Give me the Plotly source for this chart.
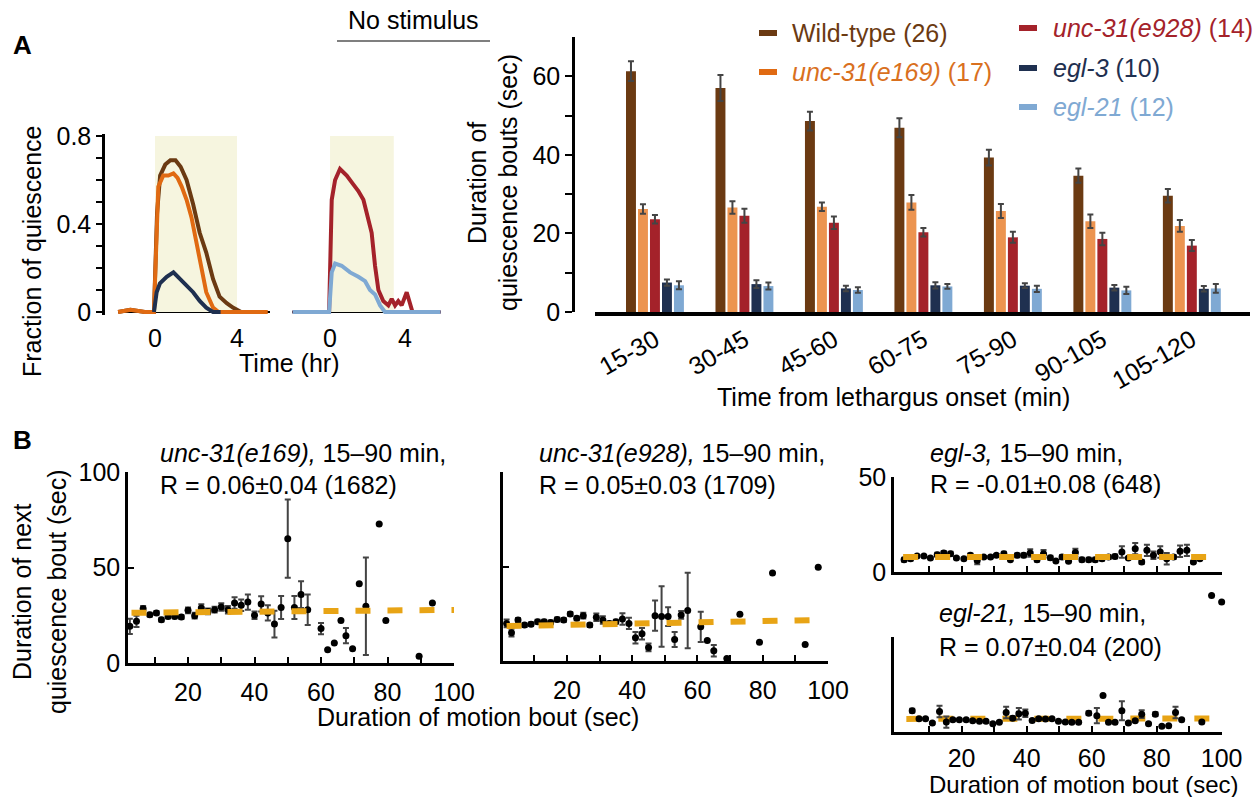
import plotly.graph_objects as go

W, H = 1256, 797
FONT = "Liberation Sans, Arial, sans-serif"
FS = 25

def X(px):
    return px / W

def Y(py):
    return 1 - py / H

# ---------------- Panel A: time courses ----------------
wt_t = [-1.8, -1.2, -0.5, -0.05, 0.1, 0.25, 0.5, 0.75, 1.0, 1.25, 1.54, 1.86, 2.18, 2.5, 2.83, 3.15, 3.5, 3.8, 4.2]
wt_y = [0.0, 0.01, 0.0, 0.0, 0.45, 0.62, 0.67, 0.69, 0.69, 0.66, 0.60, 0.49, 0.36, 0.27, 0.15, 0.07, 0.04, 0.02, 0.0]
e169_t = [-1.8, -1.2, -0.5, -0.05, 0.08, 0.16, 0.4, 0.65, 0.9, 1.1, 1.3, 1.54, 1.78, 2.0, 2.27, 2.5, 2.83, 3.1, 4.0, 5.5]
e169_y = [0.0, 0.01, 0.0, 0.0, 0.35, 0.57, 0.62, 0.62, 0.63, 0.61, 0.57, 0.51, 0.43, 0.33, 0.21, 0.09, 0.02, 0.0, 0.0, 0.0]
egl3_t = [-0.05, 0.08, 0.24, 0.57, 0.9, 1.2, 1.54, 1.86, 2.18, 2.5, 2.83, 3.2]
egl3_y = [0.0, 0.09, 0.13, 0.16, 0.18, 0.15, 0.12, 0.09, 0.05, 0.02, 0.0, 0.0]
e928_t = [-2.0, -1.0, -0.05, 0.09, 0.27, 0.53, 0.89, 1.24, 1.51, 1.78, 2.04, 2.22, 2.4, 2.58, 2.84, 3.11, 3.29, 3.47, 3.64, 3.82, 4.09, 4.27, 4.4, 5.9]
e928_y = [0.0, 0.0, 0.0, 0.51, 0.60, 0.65, 0.62, 0.58, 0.55, 0.51, 0.43, 0.36, 0.21, 0.10, 0.05, 0.03, 0.06, 0.03, 0.05, 0.03, 0.09, 0.03, 0.0, 0.0]
egl21_t = [-2.0, -0.05, 0.09, 0.27, 0.62, 1.07, 1.51, 1.87, 2.13, 2.4, 2.67, 2.93, 4.0, 5.9]
egl21_y = [0.0, 0.0, 0.18, 0.22, 0.21, 0.18, 0.16, 0.14, 0.10, 0.08, 0.03, 0.0, 0.0, 0.0]
shadeA1 = [0, 4]
shadeA2 = [0, 3.4]
shade_top = 0.8

# ---------------- Panel A: bars ----------------
cats = ['15-30', '30-45', '45-60', '60-75', '75-90', '90-105', '105-120']
wt_bar = [61.3, 57.0, 48.6, 46.9, 39.3, 34.7, 29.6]
wt_err = [2.5, 3.3, 2.4, 2.4, 2.0, 1.8, 1.7]
e169_bar = [26.2, 26.6, 26.8, 27.9, 25.7, 23.1, 21.9]
e169_err = [1.2, 1.6, 1.1, 1.9, 1.8, 1.7, 1.5]
e928_bar = [23.6, 24.5, 22.7, 20.3, 19.0, 18.6, 16.9]
e928_err = [1.1, 1.8, 1.6, 1.1, 1.4, 1.6, 1.4]
egl3_bar = [7.5, 7.1, 6.0, 6.8, 6.7, 6.2, 5.9]
egl3_err = [0.8, 1.0, 0.7, 0.8, 0.6, 0.7, 0.7]
egl21_bar = [6.8, 6.6, 5.6, 6.5, 5.9, 5.5, 6.0]
egl21_err = [1.0, 0.9, 0.7, 0.6, 0.8, 0.9, 1.1]

# ---------------- Panel B ----------------
B1_x = [2.5, 4.5, 6.5, 8.5, 10.5, 12, 14, 16, 18, 20, 22, 24, 26, 28, 30, 32, 34, 36, 38, 40, 42, 44, 46, 48, 50, 52, 54, 56, 60, 62, 64, 66, 67.5, 69.5, 71.5, 73.5, 77.5, 79.5, 89.5, 93.5]
B1_y = [19.2, 21.8, 28.4, 25.3, 26.2, 22.7, 24.4, 24.4, 24.1, 27.6, 24.8, 28.8, 27.0, 27.9, 29.3, 27.9, 31.4, 30.2, 31.9, 25.0, 30.9, 26.2, 20.4, 29.1, 65.1, 29.1, 35.8, 27.9, 18.0, 7.0, 10.5, 22.2, 14.3, 7.5, 41.5, 29.7, 72.8, 22.3, 3.5, 31.4]
B1_err = [4, 3, 1.5, 1, 1, 1, 1, 1, 1, 1.5, 1.5, 2, 1.5, 1.5, 2, 2, 3, 3, 4, 2, 4, 4, 7, 6, 20.5, 6, 7, 8, 3, 0, 0, 0, 4, 0, 0, 25.5, 0, 0, 0, 0]
B2_x = [1.5, 3, 5, 7, 9, 11, 13, 15, 17, 19, 21, 23, 25, 27, 29, 31, 33, 35, 37, 39, 41, 43, 45, 47, 49, 51, 53, 55, 57, 61, 63, 65, 69, 73, 79, 83, 93, 97]
B2_y = [19.9, 15.0, 21.7, 19.0, 19.5, 20.8, 20.8, 20.4, 22.0, 21.7, 24.9, 22.6, 24.0, 19.0, 23.1, 21.7, 19.9, 20.8, 22.2, 19.9, 12.3, 14.4, 7.2, 24.0, 23.5, 23.5, 11.4, 24.4, 26.7, 18.1, 10.8, 5.4, 1.3, 24.7, 9.9, 46.6, 8.7, 49.6]
B2_err = [2, 2, 1, 1, 1, 1, 1, 1, 1, 1, 1, 1, 1.5, 1, 2, 2, 1, 1, 3, 3, 3, 3, 2, 8, 16, 5, 4, 2, 20, 8, 0, 3, 0, 0, 0, 0, 0, 0]
B3_x = [2.3, 4.3, 6.3, 8.4, 10.4, 12.5, 14.5, 16.6, 18.4, 20.7, 22.7, 24.8, 26.8, 28.9, 30.7, 33.0, 35.0, 37.1, 39.1, 41.1, 43.2, 45.2, 47.3, 49.0, 50.9, 52.9, 55.0, 57.0, 59.1, 61.1, 63.2, 65.2, 67.2, 69.3, 71.3, 73.4, 75.4, 77.0, 79.0, 81.1, 83.1, 85.2, 87.2, 89.3, 91.3, 93.3]
B3_y = [6.5, 7.0, 8.4, 8.4, 7.4, 9.1, 10.0, 9.6, 7.4, 7.0, 8.8, 6.1, 7.9, 7.9, 8.8, 9.6, 6.5, 8.8, 8.8, 10.0, 6.5, 9.6, 7.5, 5.8, 7.9, 5.6, 10.2, 6.5, 6.5, 6.5, 7.0, 7.9, 8.2, 10.5, 7.4, 12.3, 5.3, 11.4, 8.8, 10.5, 7.0, 7.9, 10.9, 11.4, 5.3, 7.0]
B3_err = [1, 1, 0.5, 0.5, 0.5, 1, 1, 1, 0.5, 0.5, 1, 2, 0.5, 0.5, 0.5, 1, 0.5, 1, 1, 2, 1, 2, 1, 0.5, 1, 0.5, 2, 1, 1, 1, 1, 1, 1, 3, 0.5, 3, 1, 3, 2, 3, 3, 1, 3, 3, 0.5, 0.5]
B4_x = [4.8, 6.9, 8.9, 11.0, 13.2, 15.3, 17.3, 19.3, 21.4, 23.4, 25.5, 27.5, 29.6, 31.6, 33.7, 35.7, 37.6, 39.6, 41.7, 43.7, 45.8, 47.8, 49.8, 51.9, 53.9, 56.0, 59.1, 61.6, 63.5, 65.2, 67.2, 69.3, 71.3, 73.4, 75.4, 77.5, 79.6, 81.6, 83.7, 85.8, 87.7, 93.9, 96.9, 100]
B4_y = [11.2, 7.0, 7.0, 4.7, 10.8, 5.2, 6.5, 6.5, 6.5, 5.9, 5.6, 5.6, 4.4, 5.1, 10.3, 7.3, 9.6, 9.9, 6.1, 7.0, 6.8, 7.0, 5.6, 5.2, 5.1, 5.1, 9.9, 8.6, 19.2, 5.1, 5.1, 11.2, 4.7, 5.9, 9.4, 4.4, 9.4, 3.0, 3.3, 10.3, 6.5, 5.2, 71.9, 68.4]
B4_err = [1, 0.5, 0.5, 0.5, 3, 3, 0.5, 0.5, 0.5, 0.5, 0.5, 0.5, 0.5, 0.5, 3, 1, 3, 2, 0.5, 0.5, 0.5, 0.5, 0.5, 0.5, 0.5, 0.5, 1, 4, 0, 0.5, 0.5, 5, 0.5, 0.5, 2, 0.5, 1, 0, 0, 3, 0.5, 0.5, 0, 0]
fit1_x, fit1_y = [3, 100], [26.3, 27.8]
fit2_x, fit2_y = [1.5, 98], [18.5, 21.7]
fit3_x, fit3_y = [2, 97], [7.9, 7.9]
fit4_x, fit4_y = [3, 97], [6.9, 7.1]

C_WT = '#6B3A12'
C_E169_LINE = '#E06A12'
C_E169_BAR = '#EC9450'
C_E169_TXT = '#D9701E'
C_E928 = '#A4222A'
C_EGL3 = '#1F3050'
C_EGL21 = '#7FA9D3'
C_FIT = '#E8A415'
C_ERR = '#444444'

fig = go.Figure()

def line(t, y, c, xa, ya):
    fig.add_trace(go.Scatter(x=t, y=y, mode='lines', line=dict(color=c, width=4),
                             xaxis=xa, yaxis=ya, hoverinfo='skip'))

line(wt_t, wt_y, C_WT, 'x', 'y')
line(e169_t, e169_y, C_E169_LINE, 'x', 'y')
line(egl3_t, egl3_y, C_EGL3, 'x', 'y')
line(e928_t, e928_y, C_E928, 'x2', 'y2')
line(egl21_t, egl21_y, C_EGL21, 'x2', 'y2')

for vals, errs, col in [(wt_bar, wt_err, C_WT), (e169_bar, e169_err, C_E169_BAR),
                        (e928_bar, e928_err, C_E928), (egl3_bar, egl3_err, C_EGL3),
                        (egl21_bar, egl21_err, C_EGL21)]:
    fig.add_trace(go.Bar(x=cats, y=vals, marker=dict(color=col, line=dict(width=0)),
                         error_y=dict(type='data', array=errs, color=C_ERR, thickness=2, width=3),
                         xaxis='x3', yaxis='y3'))

# B panels: fitted dashed line on the visible axes; B4 points go on an overlay axis with the
# same scale but a taller range so that the two off-scale points stay visible
for bx, by, be, fx, fy, pxa, pya, fxa, fya in [
        (B1_x, B1_y, B1_err, fit1_x, fit1_y, 'x4', 'y4', 'x4', 'y4'),
        (B2_x, B2_y, B2_err, fit2_x, fit2_y, 'x5', 'y5', 'x5', 'y5'),
        (B3_x, B3_y, B3_err, fit3_x, fit3_y, 'x6', 'y6', 'x6', 'y6'),
        (B4_x, B4_y, B4_err, fit4_x, fit4_y, 'x8', 'y8', 'x7', 'y7')]:
    fig.add_trace(go.Scatter(x=bx, y=by, mode='markers', cliponaxis=False,
                             marker=dict(color='black', size=7),
                             error_y=dict(type='data', array=be, color=C_ERR, thickness=2, width=3),
                             xaxis=pxa, yaxis=pya))
    fig.add_trace(go.Scatter(x=fx, y=fy, mode='lines', line=dict(color=C_FIT, width=6, dash='15px,17px'),
                             xaxis=fxa, yaxis=fya))

# ---------------- axes ----------------
def ydom(v0, p0, v1, p1, r):
    s = (p1 - p0) / (v1 - v0)
    pa = p0 + (r[0] - v0) * s
    pb = p0 + (r[1] - v0) * s
    return [Y(pa), Y(pb)]

base = dict(showgrid=False, zeroline=False, linecolor='black', tickcolor='black', automargin=False,
            tickfont=dict(family=FONT, size=FS, color='black'))

rA = [-0.012, 0.81]
domA = ydom(0, 312, 0.8, 136, rA)
lay = dict(
    xaxis=dict(base, domain=[X(110), X(272)], range=[-2.195, 5.707], anchor='y', showline=False,
               tickvals=[0, 4], ticks='', ticklabelstandoff=6),
    yaxis=dict(base, domain=domA, range=rA, anchor='free', position=X(103), showline=True, linewidth=2.5,
               ticks='outside', ticklen=6, tickwidth=2,
               tickvals=[0, 0.1, 0.2, 0.3, 0.4, 0.5, 0.6, 0.7, 0.8],
               ticktext=['0', '', '', '', '0.4', '', '', '', '0.8']),
    xaxis2=dict(base, domain=[X(292), X(441)], range=[-2.03, 5.92], anchor='y2', showline=False,
                tickvals=[0, 4], ticks='', ticklabelstandoff=6),
    yaxis2=dict(base, domain=domA, range=rA, anchor='x2', visible=False),
    xaxis3=dict(base, domain=[X(595), X(1250)], range=[-0.67, 6.65], anchor='y3', showline=True,
                linewidth=3.5, ticks='', tickangle=-30, type='category'),
    yaxis3=dict(base, domain=[Y(312), Y(37)], range=[0, 70], anchor='free', position=X(573),
                showline=True, linewidth=2.5, ticks='outside', ticklen=7, tickwidth=2,
                tickvals=[0, 10, 20, 30, 40, 50, 60], ticktext=['0', '', '20', '', '40', '', '60']),
)
xt_vals = [10, 20, 30, 40, 50, 60, 70, 80, 90, 100]
xt_text = ['', '20', '', '40', '', '60', '', '80', '', '100']
bx_common = dict(base, showline=True, linewidth=2.5, ticks='inside', ticklen=6, tickwidth=2,
                 tickvals=xt_vals, ticktext=xt_text, ticklabelstandoff=5)
by_common = dict(base, showline=True, linewidth=2.5, ticks='inside', ticklen=6, tickwidth=2)
lay.update(
    xaxis4=dict(bx_common, domain=[X(128), X(454)], range=[1.95, 100], anchor='y4'),
    yaxis4=dict(by_common, domain=[Y(663), Y(472)], range=[0, 100], anchor='x4',
                tickvals=[0, 50, 100], ticktext=['0', '50', '100']),
    xaxis5=dict(bx_common, domain=[X(503), X(828)], range=[0.4, 100], anchor='y5'),
    yaxis5=dict(by_common, domain=[Y(661), Y(472)], range=[0, 100], anchor='x5',
                tickvals=[0, 50, 100], showticklabels=False),
    xaxis6=dict(bx_common, domain=[X(894), X(1222)], range=[-0.8, 100.1], anchor='y6', showticklabels=False),
    yaxis6=dict(by_common, domain=[Y(572), Y(477)], range=[0, 50], anchor='x6',
                tickvals=[0, 50], ticktext=['0', '50']),
    xaxis7=dict(bx_common, domain=[X(894), X(1222)], range=[-0.8, 100.1], anchor='y7',
                ticklabelstandoff=2),
    yaxis7=dict(by_common, domain=[Y(732), Y(637)], range=[0, 50], anchor='x7',
                tickvals=[0, 50], showticklabels=False),
    xaxis8=dict(base, domain=[X(894), X(1222)], range=[-0.8, 100.1], anchor='y8', visible=False),
    yaxis8=dict(base, domain=[Y(732), Y(580)], range=[0, 80], anchor='x8', visible=False),
)

shapes = [
    dict(type='rect', xref='x', yref='y', x0=shadeA1[0], x1=shadeA1[1], y0=0, y1=shade_top,
         fillcolor='#F6F5DF', line=dict(width=0), layer='below'),
    dict(type='rect', xref='x2', yref='y2', x0=shadeA2[0], x1=shadeA2[1], y0=0, y1=shade_top,
         fillcolor='#F6F5DF', line=dict(width=0), layer='below'),
    dict(type='line', xref='paper', yref='y', x0=X(118), x1=X(270), y0=0, y1=0,
         line=dict(color='black', width=2), layer='below'),
    dict(type='line', xref='paper', yref='y2', x0=X(292), x1=X(441), y0=0, y1=0,
         line=dict(color='black', width=2), layer='below'),
    dict(type='line', xref='paper', yref='paper', x0=X(337), x1=X(490), y0=Y(41), y1=Y(41),
         line=dict(color='#555555', width=1.5)),
]

annotations = []

def ann(text, px, py, size=FS, color='black', xanchor='center', yanchor='middle', angle=0, bold=False):
    if bold:
        text = '<b>' + text + '</b>'
    annotations.append(dict(text=text, x=X(px), y=Y(py), xref='paper', yref='paper', showarrow=False,
                            xanchor=xanchor, yanchor=yanchor, textangle=angle,
                            font=dict(family=FONT, size=size, color=color)))

ann('A', 22, 45, size=26, bold=True)
ann('B', 22, 440, size=26, bold=True)
ann('No stimulus', 413, 20)
ann('Fraction of quiescence', 32, 251, angle=-90)
ann('Time (hr)', 289, 363)
ann('Duration of', 477, 183, angle=-90)
ann('quiescence bouts (sec)', 508, 183, angle=-90)
ann('Time from lethargus onset (min)', 893, 397)

legend_items = [
    ('Wild-type (26)', C_WT, C_WT, 768, 33, 790),
    ('<i>unc-31(e169)</i> (17)', C_E169_LINE, C_E169_TXT, 768, 72, 790),
    ('<i>unc-31(e928)</i> (14)', C_E928, C_E928, 1028, 28, 1051),
    ('<i>egl-3</i> (10)', C_EGL3, C_EGL3, 1028, 68, 1051),
    ('<i>egl-21</i> (12)', C_EGL21, C_EGL21, 1028, 107, 1051),
]
for txt, mc, tc, mx, my, tx in legend_items:
    shapes.append(dict(type='line', xref='paper', yref='paper', x0=X(mx - 9), x1=X(mx + 9),
                       y0=Y(my), y1=Y(my), line=dict(color=mc, width=6)))
    ann(txt, tx, my, color=tc, xanchor='left')

ann('<i>unc-31(e169),</i> 15\u201390 min,', 158, 453, xanchor='left')
ann('R = 0.06\u00b10.04 (1682)', 158, 485, xanchor='left')
ann('<i>unc-31(e928),</i> 15\u201390 min,', 537, 453, xanchor='left')
ann('R = 0.05\u00b10.03 (1709)', 537, 485, xanchor='left')
ann('<i>egl-3,</i> 15\u201390 min,', 928, 453, xanchor='left')
ann('R = -0.01\u00b10.08 (648)', 928, 484, xanchor='left')
ann('<i>egl-21,</i> 15\u201390 min,', 937, 613, xanchor='left')
ann('R = 0.07\u00b10.04 (200)', 937, 647, xanchor='left')
ann('Duration of next', 22, 592, angle=-90)
ann('quiescence bout (sec)', 57, 592, angle=-90)
ann('Duration of motion bout (sec)', 478, 717)
ann('Duration of motion bout (sec)', 1083, 784, size=24)

fig.update_layout(
    template='none',
    width=W, height=H, margin=dict(l=0, r=0, t=0, b=0, pad=0), autosize=False,
    paper_bgcolor='white', plot_bgcolor='rgba(0,0,0,0)', showlegend=False,
    barmode='group', bargap=0.33, bargroupgap=0.17,
    font=dict(family=FONT, size=FS, color='black'),
    shapes=shapes, annotations=annotations, **lay,
)

fig.write_html('out.html')
